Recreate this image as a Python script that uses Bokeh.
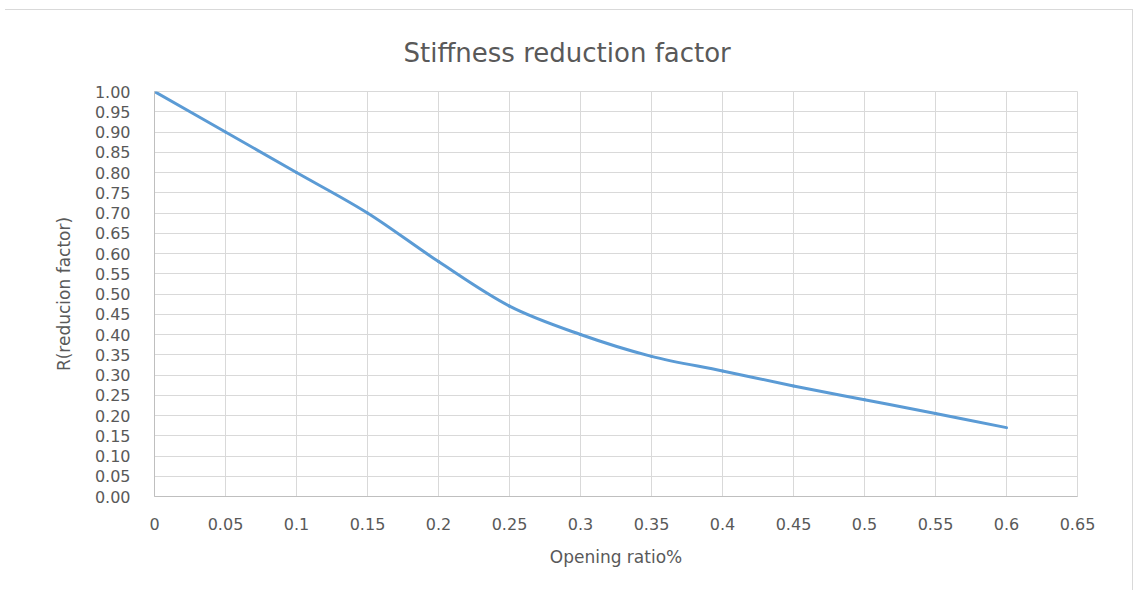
from bokeh.plotting import figure
from bokeh.models import FixedTicker, Title
from bokeh.embed import file_html
from bokeh.resources import INLINE

# Stiffness reduction factor R against opening ratio
opening_ratio = [0.00, 0.05, 0.10, 0.15, 0.20, 0.25, 0.30, 0.35, 0.40, 0.45, 0.50, 0.55, 0.60]
reduction_factor = [1.00, 0.90, 0.80, 0.70, 0.58, 0.47, 0.40, 0.346, 0.31, 0.273, 0.239, 0.205, 0.17]

x_ticks = [0.00, 0.05, 0.10, 0.15, 0.20, 0.25, 0.30, 0.35, 0.40, 0.45, 0.50, 0.55, 0.60, 0.65]
x_tick_labels = ["0", "0.05", "0.1", "0.15", "0.2", "0.25", "0.3", "0.35", "0.4",
                 "0.45", "0.5", "0.55", "0.6", "0.65"]
y_ticks = [0.00, 0.05, 0.10, 0.15, 0.20, 0.25, 0.30, 0.35, 0.40, 0.45, 0.50,
           0.55, 0.60, 0.65, 0.70, 0.75, 0.80, 0.85, 0.90, 0.95, 1.00]
y_tick_labels = ["0.00", "0.05", "0.10", "0.15", "0.20", "0.25", "0.30", "0.35", "0.40",
                 "0.45", "0.50", "0.55", "0.60", "0.65", "0.70", "0.75", "0.80", "0.85",
                 "0.90", "0.95", "1.00"]

FONT = "DejaVu Sans"
TEXT = "#595959"
GRID = "#d9d9d9"
LINE = "#5b9bd5"

p = figure(
    width=1128, height=581,
    x_range=(0, 0.65), y_range=(0, 1.0),
    output_backend="svg", toolbar_location=None,
    min_border_left=149, min_border_right=56,
    min_border_top=81, min_border_bottom=95,
    margin=(9, 0, 0, 5),
    styles={"border-top": "1px solid #d9d9d9", "border-right": "1px solid #d9d9d9"},
)
p.background_fill_color = "white"
p.border_fill_color = "white"
p.outline_line_color = GRID

# chart title, placed so that it sits centred over the whole chart
p.add_layout(Title(text="Stiffness reduction factor", align="left", offset=249,
                   standoff=48, text_font=FONT, text_font_size="26px",
                   text_font_style="normal", text_color=TEXT), "above")

# axes
p.xaxis.ticker = FixedTicker(ticks=x_ticks)
p.yaxis.ticker = FixedTicker(ticks=y_ticks)
p.xaxis.major_label_overrides = dict(zip(x_ticks, x_tick_labels))
p.yaxis.major_label_overrides = dict(zip(y_ticks, y_tick_labels))
for ax in (p.xaxis, p.yaxis):
    ax.major_tick_out = 0
    ax.major_tick_in = 0
    ax.minor_tick_out = 0
    ax.minor_tick_in = 0
    ax.axis_line_color = "#bfbfbf"
    ax.major_label_text_font = FONT
    ax.major_label_text_font_size = "16px"
    ax.major_label_text_color = TEXT
    ax.axis_label_text_font = FONT
    ax.axis_label_text_font_size = "17px"
    ax.axis_label_text_color = TEXT
    ax.axis_label_text_font_style = "normal"

p.xaxis.axis_label = "Opening ratio%"
p.xaxis.major_label_standoff = 21
p.xaxis.axis_label_standoff = 14
p.yaxis.axis_label = "R(reducion factor)"
p.yaxis.major_label_standoff = 24
p.yaxis.axis_label_standoff = 18

p.xgrid.ticker = FixedTicker(ticks=x_ticks)
p.ygrid.ticker = FixedTicker(ticks=y_ticks)
p.xgrid.grid_line_color = GRID
p.ygrid.grid_line_color = GRID

# smoothed curve: one cubic Bezier per interval (Catmull-Rom control points)
n = len(opening_ratio)
x0, y0, x1, y1, cx0, cy0, cx1, cy1 = [], [], [], [], [], [], [], []
for i in range(n - 1):
    xa, ya = opening_ratio[i], reduction_factor[i]
    xb, yb = opening_ratio[i + 1], reduction_factor[i + 1]
    xp, yp = (opening_ratio[i - 1], reduction_factor[i - 1]) if i > 0 else (xa, ya)
    xn, yn = (opening_ratio[i + 2], reduction_factor[i + 2]) if i + 2 < n else (xb, yb)
    x0.append(xa); y0.append(ya); x1.append(xb); y1.append(yb)
    cx0.append(xa + (xb - xp) / 6); cy0.append(ya + (yb - yp) / 6)
    cx1.append(xb - (xn - xa) / 6); cy1.append(yb - (yn - ya) / 6)

p.bezier(x0=x0, y0=y0, x1=x1, y1=y1, cx0=cx0, cy0=cy0, cx1=cx1, cy1=cy1,
         line_color=LINE, line_width=3, line_cap="round")

open("out.html", "w").write(file_html(p, INLINE))
